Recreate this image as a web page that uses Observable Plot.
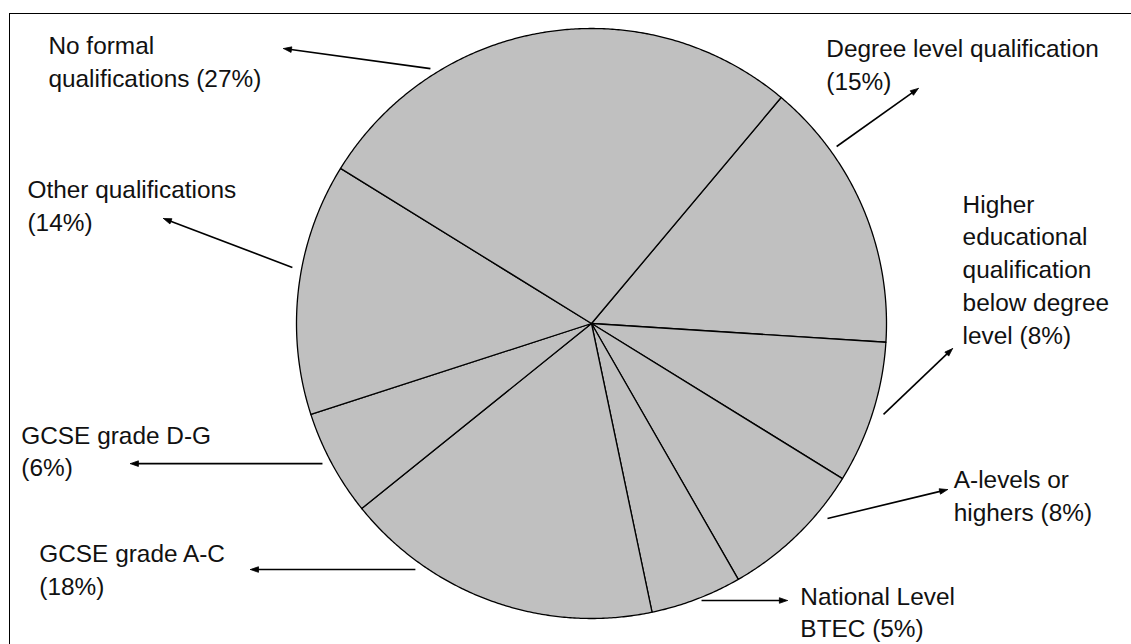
<!DOCTYPE html>
<html>
<head>
<meta charset="utf-8">
<script src="https://cdn.jsdelivr.net/npm/d3@7"></script>
<script src="https://cdn.jsdelivr.net/npm/@observablehq/plot@0.6"></script>
<style>
  html, body { margin: 0; padding: 0; background: #fff; }
  #wrap { position: relative; width: 1131px; height: 644px; overflow: hidden; }
  #border { position: absolute; left: 9px; top: 13px; width: 1300px; height: 800px;
            border-left: 1.5px solid #000; border-top: 1.5px solid #000; pointer-events: none; }
</style>
</head>
<body>
<div id="wrap"><div id="chart"></div><div id="border"></div></div>
<script>
// ---------- DATA (clockwise, starting from the Degree slice) ----------
const categories = [
  "Degree level qualification",
  "Higher educational qualification below degree level",
  "A-levels or highers",
  "National Level BTEC",
  "GCSE grade A-C",
  "GCSE grade D-G",
  "Other qualifications",
  "No formal qualifications"
];
const shares = [14.9, 7.8, 7.9, 5.0, 17.5, 5.8, 13.8, 27.3];
// how each category name is wrapped in its label (the percentage is appended to the last line)
const labelLines = [
  ["Degree level qualification", ""],
  ["Higher", "educational", "qualification", "below degree", "level"],
  ["A-levels or", "highers"],
  ["National Level", "BTEC"],
  ["GCSE grade A-C", ""],
  ["GCSE grade D-G", ""],
  ["Other qualifications", ""],
  ["No formal", "qualifications"]
];

// ---------- LAYOUT (units of pie radius, centre = 0,0, y pointing down) ----------
const W = 1131, H = 644, CX = 591, CY = 323, R = 295;
const startAngle = 40;            // degrees clockwise from 12 o'clock
const fontSize = 24.4, lineStep = 32.75 / R;
const labelAnchor = [             // left edge, baseline of first line
  [0.796, -0.902], [1.258, -0.376], [1.228, 0.559], [0.708, 0.953],
  [-1.872, 0.810], [-1.933, 0.407], [-1.912, -0.424], [-1.841, -0.912]
];
const arrowFrom = [
  [0.831, -0.600], [0.990, 0.308], [0.800, 0.661], [0.373, 0.939],
  [-0.597, 0.834], [-0.912, 0.475], [-1.014, -0.190], [-0.546, -0.864]
];
const arrowTo = [
  [1.108, -0.797], [1.224, 0.085], [1.207, 0.563], [0.664, 0.939],
  [-1.156, 0.834], [-1.563, 0.475], [-1.451, -0.356], [-1.044, -0.932]
];

// ---------- build marks data ----------
const total = d3.sum(shares);
const slicePts = [];
let acc = 0;
categories.forEach((c, i) => {
  const a0 = startAngle + acc / total * 360;
  acc += shares[i];
  const a1 = startAngle + acc / total * 360;
  slicePts.push({c, x: 0, y: 0});
  const n = Math.max(4, Math.ceil((a1 - a0) / 0.4));
  for (let k = 0; k <= n; k++) {
    const a = (a0 + (a1 - a0) * k / n) * Math.PI / 180;
    slicePts.push({c, x: Math.sin(a), y: -Math.cos(a)});
  }
  slicePts.push({c, x: 0, y: 0});
});

const textRows = [];
categories.forEach((c, i) => {
  const pct = `(${Math.round(shares[i])}%)`;
  const lines = labelLines[i].slice();
  const last = lines.length - 1;
  lines[last] = lines[last] ? lines[last] + " " + pct : pct;
  lines.forEach((t, j) => textRows.push({
    c, text: t, x: labelAnchor[i][0], y: labelAnchor[i][1] + j * lineStep
  }));
});

const headLen = 8 / R, headHalf = 2.8 / R;
const shafts = [], heads = [];
categories.forEach((c, i) => {
  const [x1, y1] = arrowFrom[i], [x2, y2] = arrowTo[i];
  const L = Math.hypot(x2 - x1, y2 - y1);
  const ux = (x2 - x1) / L, uy = (y2 - y1) / L;
  shafts.push({c, x1, y1, x2: x2 - ux * headLen * 0.7, y2: y2 - uy * headLen * 0.7});
  const bx = x2 - ux * headLen, by = y2 - uy * headLen;
  heads.push({c, x: x2, y: y2});
  heads.push({c, x: bx - uy * headHalf, y: by + ux * headHalf});
  heads.push({c, x: bx + uy * headHalf, y: by - ux * headHalf});
  heads.push({c, x: x2, y: y2});
});

const chart = Plot.plot({
  width: W, height: H, margin: 0,
  x: {domain: [-CX / R, (W - CX) / R], range: [0, W], axis: null},
  y: {domain: [-CY / R, (H - CY) / R], range: [0, H], axis: null},
  style: {fontFamily: "Arial, 'Liberation Sans', sans-serif", background: "#fff", color: "#000"},
  marks: [
    Plot.line(slicePts, {x: "x", y: "y", z: "c", fill: "#c0c0c0", stroke: "#000",
                         strokeWidth: 1.3, strokeLinejoin: "round", curve: "linear"}),
    Plot.link(shafts, {x1: "x1", y1: "y1", x2: "x2", y2: "y2", stroke: "#000", strokeWidth: 1.6}),
    Plot.line(heads, {x: "x", y: "y", z: "c", fill: "#000", stroke: "#000", strokeWidth: 0.8, curve: "linear"}),
    Plot.text(textRows, {x: "x", y: "y", text: "text", textAnchor: "start", lineAnchor: "top",
                         dy: -0.71 * fontSize, fontSize, fill: "#111"})
  ]
});
document.getElementById("chart").appendChild(chart);
</script>
</body>
</html>
